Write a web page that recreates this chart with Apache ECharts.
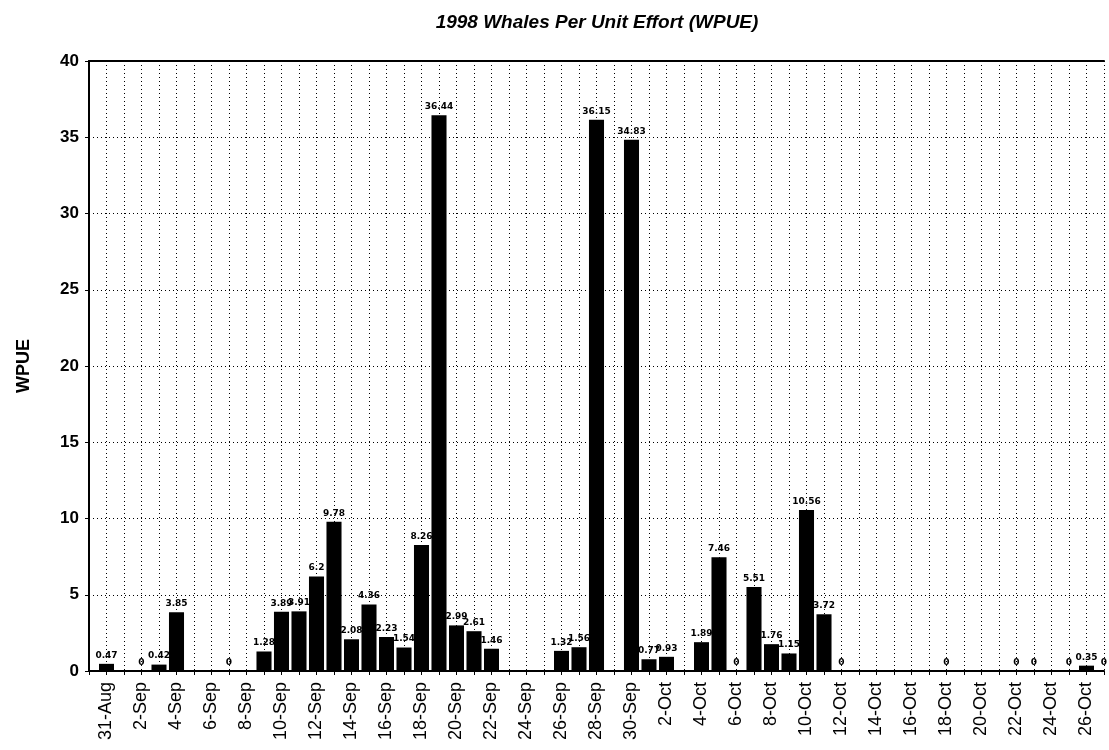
<!DOCTYPE html>
<html>
<head>
<meta charset="utf-8">
<title>1998 Whales Per Unit Effort</title>
<script src="https://cdn.jsdelivr.net/npm/echarts@6/dist/echarts.min.js"></script>
<style>
  html, body { margin: 0; padding: 0; background: #fff; }
  #chart { width: 1109px; height: 750px; }
</style>
</head>
<body>
<div id="chart"></div>
<script>
// one category per day, 30-Aug (axis start) to 27-Oct
const days = [
  '30-Aug', '31-Aug',
  '1-Sep', '2-Sep', '3-Sep', '4-Sep', '5-Sep', '6-Sep', '7-Sep', '8-Sep', '9-Sep', '10-Sep',
  '11-Sep', '12-Sep', '13-Sep', '14-Sep', '15-Sep', '16-Sep', '17-Sep', '18-Sep', '19-Sep', '20-Sep',
  '21-Sep', '22-Sep', '23-Sep', '24-Sep', '25-Sep', '26-Sep', '27-Sep', '28-Sep', '29-Sep', '30-Sep',
  '1-Oct', '2-Oct', '3-Oct', '4-Oct', '5-Oct', '6-Oct', '7-Oct', '8-Oct', '9-Oct', '10-Oct',
  '11-Oct', '12-Oct', '13-Oct', '14-Oct', '15-Oct', '16-Oct', '17-Oct', '18-Oct', '19-Oct', '20-Oct',
  '21-Oct', '22-Oct', '23-Oct', '24-Oct', '25-Oct', '26-Oct', '27-Oct'
]

// null = no survey that day (no bar, no label)
const wpue = [
  null, 0.47,
  null, 0, 0.42, 3.85, null, null, 0, null, 1.28, 3.89,
  3.91, 6.2, 9.78, 2.08, 4.36, 2.23, 1.54, 8.26, 36.44, 2.99,
  2.61, 1.46, null, null, null, 1.32, 1.56, 36.15, null, 34.83,
  0.77, 0.93, null, 1.89, 7.46, 0, 5.51, 1.76, 1.15, 10.56,
  3.72, 0, null, null, null, null, null, 0, null, null,
  null, 0, 0, null, 0, 0.35, 0
]

const yTicks = { min: 0, max: 40, interval: 5 }

const chart = echarts.init(document.getElementById('chart'))

const option = {
  animation: false,
  backgroundColor: '#fff',
  title: {
    text: '1998 Whales Per Unit Effort (WPUE)',
    left: 592,
    top: 8,
    textAlign: 'center',
    textStyle: {
      fontFamily: 'Liberation Sans',
      fontSize: 19,
      fontWeight: 'bold',
      fontStyle: 'italic',
      color: '#000'
    }
  },
  grid: {
    left: 89,
    right: 5,
    top: 61,
    bottom: 79
  },
  xAxis: [
    {
      type: 'category',
      data: days,
      boundaryGap: false,
      axisLine: { lineStyle: { color: '#000', width: 2 } },
      axisTick: { interval: 0, length: 4, lineStyle: { color: '#000' } },
      axisLabel: {
        interval: function (idx) { return idx % 2 === 1 },
        rotate: 90,
        margin: 11,
        color: '#000',
        fontFamily: 'Liberation Sans',
        fontSize: 18
      },
      splitLine: {
        show: true,
        interval: 0,
        lineStyle: { color: '#000', type: [1, 3], width: 1 }
      }
    },
    {
      // top frame line only
      type: 'category',
      data: days,
      position: 'top',
      boundaryGap: false,
      axisLine: { lineStyle: { color: '#000', width: 2 } },
      axisTick: { show: false },
      axisLabel: { show: false },
      splitLine: { show: false }
    }
  ],
  yAxis: {
    type: 'value',
    min: yTicks.min,
    max: yTicks.max,
    interval: yTicks.interval,
    name: 'WPUE',
    nameLocation: 'middle',
    nameGap: 56,
    nameRotate: 90,
    nameTextStyle: {
      fontFamily: 'Liberation Sans',
      fontSize: 18,
      fontWeight: 'bold',
      color: '#000'
    },
    axisLine: { show: true, lineStyle: { color: '#000', width: 2 } },
    axisTick: { show: true, length: 4, lineStyle: { color: '#000' } },
    axisLabel: {
      margin: 10,
      color: '#000',
      fontFamily: 'Liberation Sans',
      fontSize: 17,
      fontWeight: 'bold'
    },
    splitLine: {
      show: true,
      lineStyle: { color: '#000', type: [1, 3], width: 1 }
    }
  },
  series: [
    {
      name: 'WPUE',
      type: 'bar',
      data: wpue,
      barWidth: '86%',
      itemStyle: { color: '#000' },
      label: {
        show: true,
        position: 'top',
        distance: 4,
        color: '#000',
        fontFamily: 'DejaVu Sans',
        fontSize: 9,
        fontWeight: 'bold'
      }
    }
  ]
}

chart.setOption(option)
</script>
</body>
</html>
